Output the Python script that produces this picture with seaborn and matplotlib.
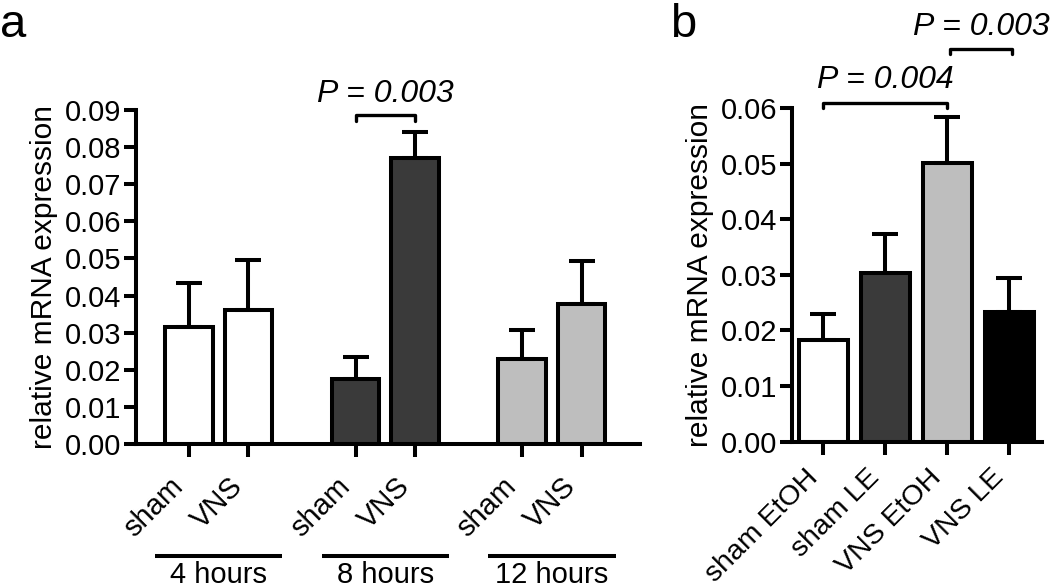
import numpy as np
import pandas as pd
import matplotlib
matplotlib.use('Agg')
import matplotlib.pyplot as plt
import seaborn as sns

# panel a: time course, sham vs VNS
conditions_a = ['sham', 'VNS', 'sham', 'VNS', 'sham', 'VNS']
groups_a = ['4 hours', '4 hours', '8 hours', '8 hours', '12 hours', '12 hours']
means_a = [0.0316, 0.0362, 0.0176, 0.0771, 0.0229, 0.0378]
sems_a = [0.0119, 0.0135, 0.0058, 0.0069, 0.0078, 0.0116]
group_colors_a = {'4 hours': '#ffffff', '8 hours': '#3a3a3a', '12 hours': '#bebebe'}

# panel b: EtOH vs LE
labels_b = ['sham EtOH', 'sham LE', 'VNS EtOH', 'VNS LE']
means_b = [0.0182, 0.0303, 0.0501, 0.0234]
sems_b = [0.0047, 0.0070, 0.0082, 0.0060]
colors_b = ['#ffffff', '#3a3a3a', '#bebebe', '#000000']

sns.set_style('ticks')
plt.rcParams['font.family'] = ['Liberation Sans', 'DejaVu Sans']
plt.rcParams['font.size'] = 21
for key in ('text.color', 'axes.labelcolor', 'xtick.color', 'ytick.color', 'axes.edgecolor'):
    plt.rcParams[key] = 'black'

LW = 2.9
FS = 21
fig = plt.figure(figsize=(10.5, 5.87), dpi=100)
ax_a = fig.add_axes([0.1295, 0.2436, 0.48, 0.569])
ax_b = fig.add_axes([0.7543, 0.2475, 0.238, 0.5685])

# x positions for panel a: pairs of bars with a wider gap between time points
group_gap = 1.8
pos_a = []
for g_i in range(3):
    pos_a += [g_i * (1 + group_gap), g_i * (1 + group_gap) + 1]
pos_a = np.array(pos_a, dtype=float)

df_a = pd.DataFrame({'pos': pos_a, 'value': means_a, 'group': groups_a})
sns.barplot(data=df_a, x='pos', y='value', hue='group', palette=group_colors_a,
            native_scale=True, dodge=False, width=0.8, errorbar=None,
            edgecolor='black', linewidth=LW, legend=False, ax=ax_a, zorder=2)
ax_a.errorbar(pos_a, means_a, yerr=[np.zeros(len(sems_a)), sems_a], fmt='none',
              ecolor='black', elinewidth=LW, capsize=9.5, capthick=LW, zorder=3)

df_b = pd.DataFrame({'label': labels_b, 'value': means_b})
sns.barplot(data=df_b, x='label', y='value', hue='label', palette=colors_b,
            width=0.79, errorbar=None, edgecolor='black', linewidth=LW,
            legend=False, ax=ax_b, zorder=2)
pos_b = np.arange(len(labels_b))
ax_b.errorbar(pos_b, means_b, yerr=[np.zeros(len(sems_b)), sems_b], fmt='none',
              ecolor='black', elinewidth=LW, capsize=9.5, capthick=LW, zorder=3)

for ax in (ax_a, ax_b):
    sns.despine(ax=ax)
    for side in ('left', 'bottom'):
        ax.spines[side].set_linewidth(LW)
    ax.tick_params(axis='y', length=8.5, width=LW, labelsize=FS, pad=2)
    ax.tick_params(axis='x', length=9.5, width=LW, labelsize=FS, pad=11)
    ax.set_ylabel('relative mRNA expression', fontsize=FS + 0.5, labelpad=5)
    ax.set_xlabel('')
    ax.yaxis.set_major_formatter(matplotlib.ticker.FormatStrFormatter('%.2f'))

ax_a.set_ylim(0, 0.09)
ax_a.set_yticks(np.arange(0, 0.0901, 0.01))
ax_a.set_xlim(-0.89, 7.58)
ax_a.set_xticks(pos_a)
ax_a.set_xticklabels(conditions_a, rotation=45, ha='right')

ax_b.set_ylim(0, 0.06)
ax_b.set_yticks(np.arange(0, 0.0601, 0.01))
ax_b.set_xlim(-0.5, 3.53)
ax_b.set_xticks(pos_b)
ax_b.set_xticklabels(labels_b, rotation=45, ha='right', fontsize=20.5)
ax_b.tick_params(axis='x', pad=7)

# group underlines and labels for panel a
tr = ax_a.get_xaxis_transform()
for g_i, name in enumerate(['4 hours', '8 hours', '12 hours']):
    c = (pos_a[2 * g_i] + pos_a[2 * g_i + 1]) / 2
    ax_a.plot([c - 1.07, c + 1.07], [-0.335, -0.335], color='black', lw=LW,
              transform=tr, clip_on=False, solid_capstyle='butt')
    ax_a.text(c, -0.35, name, ha='center', va='top', fontsize=FS, transform=tr)

# significance brackets
def bracket(ax, x1, x2, y, drop, label, ty):
    ax.plot([x1, x1, x2, x2], [y - drop, y, y, y - drop], color='black', lw=2.4,
            clip_on=False)
    ax.text((x1 + x2) / 2, ty, label, ha='center', va='baseline', fontsize=23,
            style='italic')

bracket(ax_a, pos_a[2], pos_a[3], 0.0886, 0.0015, 'P = 0.003', 0.0922)
bracket(ax_b, 0, 2, 0.0609, 0.0009, 'P = 0.004', 0.0636)
bracket(ax_b, 2.05, 3.05, 0.0706, 0.0009, 'P = 0.003', 0.0731)

fig.text(0.0, 0.995, 'a', fontsize=34, ha='left', va='top')
fig.text(0.638, 0.995, 'b', fontsize=34, ha='left', va='top')

fig.savefig('out.png', dpi=100)
